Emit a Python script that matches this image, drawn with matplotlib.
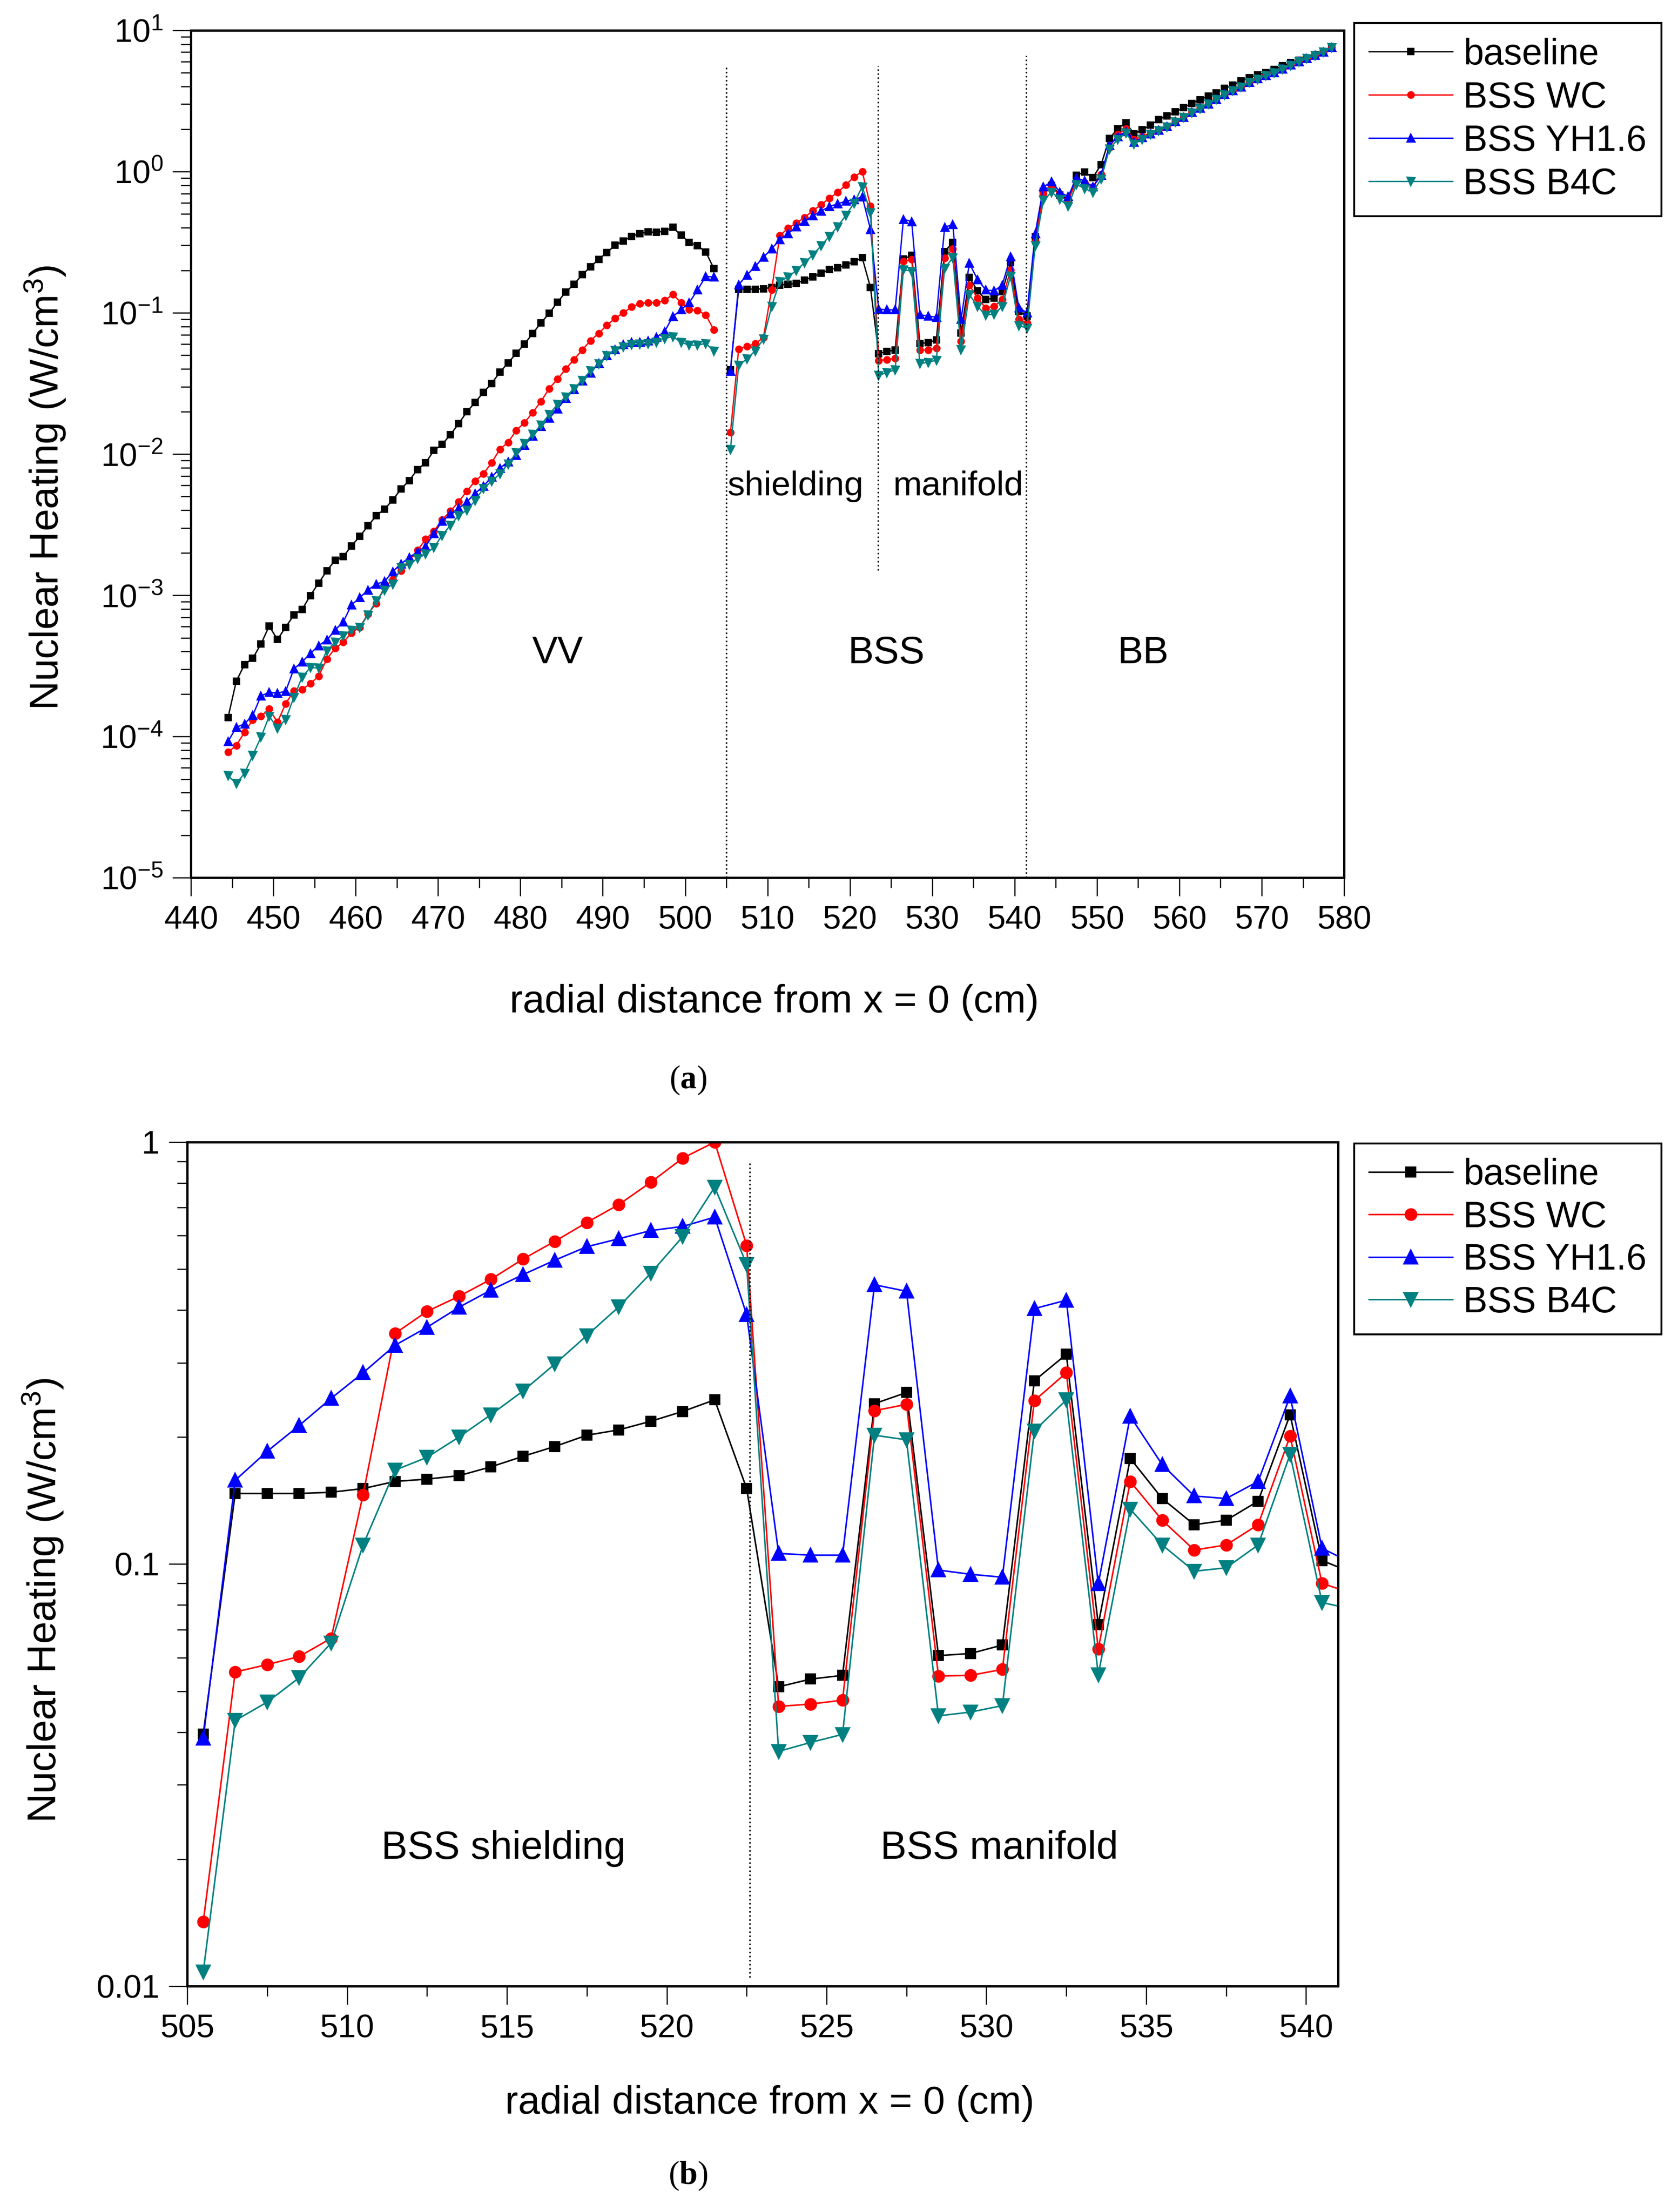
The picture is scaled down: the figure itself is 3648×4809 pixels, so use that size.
import numpy as np
import matplotlib.pyplot as plt
from matplotlib.ticker import LogLocator, MultipleLocator, NullFormatter, FixedLocator, FixedFormatter

plt.rcParams['font.family'] = ['Liberation Sans', 'DejaVu Sans']
plt.rcParams['mathtext.fontset'] = 'custom'
plt.rcParams['mathtext.rm'] = 'Liberation Sans'
plt.rcParams['mathtext.it'] = 'Liberation Sans:italic'
plt.rcParams['mathtext.bf'] = 'Liberation Serif:bold'

# radial positions (cm): vacuum vessel, back supporting structure, breeding blanket
vv_x = np.arange(444.5, 504.0, 1.0)
bss_x = np.arange(505.5, 542.0, 1.0)
bb_x = np.arange(542.5, 579.0, 1.0)

# nuclear heating (W/cm3) in the VV
vv_baseline = [1.36e-4, 2.46e-4, 3.23e-4, 3.57e-4, 4.52e-4, 6.05e-4, 4.86e-4, 5.94e-4, 7.25e-4, 7.94e-4,
               9.97e-4, 1.22e-3, 1.49e-3, 1.77e-3, 1.88e-3, 2.24e-3, 2.61e-3, 3.10e-3, 3.66e-3, 4.08e-3,
               4.72e-3, 5.66e-3, 6.49e-3, 7.78e-3, 8.67e-3, 1.06e-2, 1.17e-2, 1.37e-2, 1.64e-2, 1.99e-2,
               2.32e-2, 2.73e-2, 3.16e-2, 3.79e-2, 4.42e-2, 5.16e-2, 6.02e-2, 7.15e-2, 8.49e-2, 9.91e-2,
               0.119, 0.140, 0.159, 0.186, 0.211, 0.239, 0.267, 0.301, 0.323, 0.348,
               0.364, 0.374, 0.371, 0.378, 0.402, 0.354, 0.315, 0.298, 0.270, 0.205]
vv_wc = [7.74e-5, 8.64e-5, 1.07e-4, 1.31e-4, 1.39e-4, 1.57e-4, 1.26e-4, 1.71e-4, 2.11e-4, 2.15e-4,
         2.37e-4, 2.67e-4, 3.54e-4, 4.21e-4, 4.65e-4, 5.42e-4, 5.94e-4, 7.38e-4, 8.77e-4, 1.14e-3,
         1.29e-3, 1.49e-3, 1.77e-3, 2.08e-3, 2.49e-3, 2.84e-3, 3.43e-3, 3.94e-3, 4.59e-3, 5.46e-3,
         6.43e-3, 7.23e-3, 8.67e-3, 1.08e-2, 1.21e-2, 1.47e-2, 1.67e-2, 1.97e-2, 2.36e-2, 2.91e-2,
         3.39e-2, 4.00e-2, 4.67e-2, 5.45e-2, 6.35e-2, 7.15e-2, 8.18e-2, 9.14e-2, 0.100, 0.110,
         0.116, 0.118, 0.118, 0.122, 0.135, 0.118, 0.105, 0.104, 0.0965, 0.0755]
vv_yh = [9.2e-5, 1.16e-4, 1.23e-4, 1.41e-4, 1.94e-4, 2.05e-4, 2.03e-4, 2.09e-4, 3.01e-4, 3.38e-4,
         3.87e-4, 4.40e-4, 4.82e-4, 5.67e-4, 6.50e-4, 8.55e-4, 9.62e-4, 1.09e-3, 1.20e-3, 1.25e-3,
         1.47e-3, 1.67e-3, 1.85e-3, 2.03e-3, 2.22e-3, 2.74e-3, 3.34e-3, 3.76e-3, 4.12e-3, 4.59e-3,
         5.26e-3, 5.92e-3, 6.85e-3, 7.92e-3, 8.83e-3, 9.77e-3, 1.15e-2, 1.34e-2, 1.57e-2, 1.79e-2,
         2.09e-2, 2.47e-2, 2.85e-2, 3.30e-2, 3.75e-2, 4.38e-2, 4.97e-2, 5.49e-2, 5.96e-2, 6.18e-2,
         6.18e-2, 6.35e-2, 6.71e-2, 7.35e-2, 9.40e-2, 0.105, 0.118, 0.145, 0.181, 0.179]
vv_b4c = [5.28e-5, 4.65e-5, 5.48e-5, 7.34e-5, 9.9e-5, 1.39e-4, 1.15e-4, 1.32e-4, 1.90e-4, 2.64e-4,
          3.08e-4, 3.05e-4, 4.05e-4, 4.65e-4, 5.18e-4, 5.67e-4, 5.94e-4, 7.25e-4, 9.18e-4, 1.09e-3,
          1.20e-3, 1.57e-3, 1.66e-3, 1.82e-3, 1.97e-3, 2.18e-3, 2.66e-3, 3.13e-3, 3.66e-3, 4.01e-3,
          4.68e-3, 5.71e-3, 6.43e-3, 7.23e-3, 8.51e-3, 1.02e-2, 1.19e-2, 1.38e-2, 1.61e-2, 1.91e-2,
          2.25e-2, 2.54e-2, 2.91e-2, 3.33e-2, 3.89e-2, 4.34e-2, 4.97e-2, 5.39e-2, 5.74e-2, 5.96e-2,
          6.02e-2, 6.07e-2, 6.18e-2, 6.59e-2, 6.78e-2, 6.18e-2, 5.90e-2, 5.90e-2, 6.07e-2, 5.35e-2]

# BSS (shielding + manifold)
bss_baseline = [0.0396, 0.147, 0.147, 0.147, 0.148, 0.151, 0.157, 0.159, 0.162, 0.170,
                0.180, 0.190, 0.202, 0.208, 0.218, 0.230, 0.245, 0.151, 0.0512,
                0.0534, 0.0545, 0.240, 0.255, 0.0607, 0.0614, 0.0643, 0.272, 0.314, 0.0719,
                0.178, 0.143, 0.124, 0.127, 0.141, 0.226, 0.102, 0.095]
bss_wc = [0.0142, 0.0555, 0.0578, 0.0604, 0.0667, 0.146, 0.352, 0.397, 0.431, 0.473,
          0.528, 0.582, 0.645, 0.711, 0.803, 0.916, 1.0, 0.569, 0.0460,
          0.0466, 0.0476, 0.231, 0.239, 0.0543, 0.0545, 0.0563, 0.244, 0.284, 0.0629,
          0.157, 0.127, 0.108, 0.111, 0.124, 0.201, 0.0900, 0.085]
bss_yh = [0.0387, 0.158, 0.185, 0.213, 0.247, 0.284, 0.330, 0.364, 0.406, 0.446,
          0.485, 0.525, 0.565, 0.590, 0.617, 0.631, 0.664, 0.390, 0.106,
          0.105, 0.105, 0.459, 0.443, 0.0968, 0.0946, 0.0931, 0.403, 0.422, 0.0898,
          0.224, 0.172, 0.145, 0.143, 0.157, 0.250, 0.109, 0.100]
bss_b4c = [0.0108, 0.0426, 0.0471, 0.0538, 0.0650, 0.111, 0.167, 0.179, 0.200, 0.226,
           0.257, 0.298, 0.348, 0.407, 0.489, 0.597, 0.782, 0.513, 0.0360,
           0.0378, 0.0395, 0.202, 0.197, 0.0437, 0.0446, 0.0462, 0.207, 0.245, 0.0547,
           0.135, 0.111, 0.0962, 0.0980, 0.111, 0.182, 0.0811, 0.078]

# breeding blanket
bb_baseline = [0.344, 0.725, 0.801, 0.684, 0.63, 0.944, 0.989, 0.906, 1.12, 1.71,
               2.01, 2.22, 1.85, 1.98, 2.13, 2.34, 2.48, 2.64, 2.83, 3.04,
               3.22, 3.43, 3.61, 3.88, 4.08, 4.38, 4.62, 4.82, 5.03, 5.28,
               5.60, 5.89, 6.15, 6.38, 6.70, 7.10, 7.58]
bb_wc = [0.320, 0.695, 0.778, 0.675, 0.619, 0.861, 0.837, 0.78, 0.952, 1.48,
         1.83, 2.01, 1.69, 1.77, 1.87, 1.98, 2.10, 2.28, 2.45, 2.64,
         2.83, 3.04, 3.27, 3.53, 3.77, 4.00, 4.30, 4.55, 4.82, 5.03,
         5.33, 5.69, 6.03, 6.33, 6.64, 7.03, 7.58]
bb_yh = [0.364, 0.778, 0.849, 0.714, 0.665, 0.899, 0.86, 0.778, 0.938, 1.53,
         1.77, 1.92, 1.62, 1.74, 1.85, 1.96, 2.08, 2.26, 2.43, 2.62,
         2.81, 3.02, 3.25, 3.51, 3.75, 3.98, 4.28, 4.53, 4.80, 5.02,
         5.32, 5.68, 6.02, 6.33, 6.64, 7.03, 7.58]
bb_b4c = [0.298, 0.628, 0.714, 0.637, 0.568, 0.813, 0.757, 0.714, 0.886, 1.44,
          1.69, 1.87, 1.57, 1.69, 1.84, 1.95, 2.07, 2.25, 2.42, 2.61,
          2.80, 3.01, 3.24, 3.50, 3.74, 3.97, 4.27, 4.52, 4.79, 5.01,
          5.31, 5.67, 6.01, 6.32, 6.63, 7.02, 7.56]

labels = ["baseline", "BSS WC", "BSS YH1.6", "BSS B4C"]
colors = ["#000000", "#ff0000", "#0000ff", "#008080"]
markers = ["s", "o", "^", "v"]
msize_a = [2.8, 3.0, 3.6, 3.6]
msize_b = [5.0, 5.6, 6.8, 6.8]

vv_data = [vv_baseline, vv_wc, vv_yh, vv_b4c]
bss_data = [bss_baseline, bss_wc, bss_yh, bss_b4c]
bb_data = [bb_baseline, bb_wc, bb_yh, bb_b4c]

fig = plt.figure(figsize=(12.16, 16.03), dpi=300)
ax1 = fig.add_axes([0.1138, 0.6032, 0.6872, 0.3831])
ax2 = fig.add_axes([0.1116, 0.1021, 0.6858, 0.3816])


def style_axes(ax):
    for s in ax.spines.values():
        s.set_linewidth(1.2)
    ax.tick_params(which='both', direction='out', top=False, right=False, width=0.6, labelsize=17)
    ax.tick_params(which='major', length=9.5, pad=5)
    ax.tick_params(which='minor', length=5.3)


# ---- panel (a)
for i in range(4):
    ax1.plot(vv_x, vv_data[i], color=colors[i], marker=markers[i], ms=msize_a[i], lw=0.7,
             mec=colors[i], label=labels[i])
    ax1.plot(np.concatenate([bss_x, bb_x]), bss_data[i] + bb_data[i], color=colors[i],
             marker=markers[i], ms=msize_a[i], lw=0.7, mec=colors[i])

ax1.set_yscale('log')
ax1.set_xlim(440, 580)
ax1.set_ylim(1e-5, 10)
ax1.xaxis.set_major_locator(MultipleLocator(10))
ax1.xaxis.set_minor_locator(MultipleLocator(5))
ax1.yaxis.set_major_locator(LogLocator(base=10, numticks=20))
ax1.yaxis.set_minor_locator(LogLocator(base=10, subs=np.arange(2, 10), numticks=20))
ax1.yaxis.set_minor_formatter(NullFormatter())
style_axes(ax1)

ax1.plot([505, 505], [1e-5, 5.6], color='k', ls=':', lw=0.8)
ax1.plot([523.4, 523.4], [1.5e-3, 5.6], color='k', ls=':', lw=0.8)
ax1.plot([541.4, 541.4], [1e-5, 6.6], color='k', ls=':', lw=0.8)

ax1.text(484.5, 3.9e-4, "VV", fontsize=20, ha='center', va='center')
ax1.text(524.4, 3.9e-4, "BSS", fontsize=20, ha='center', va='center')
ax1.text(555.6, 3.9e-4, "BB", fontsize=20, ha='center', va='center')
ax1.text(513.4, 5.9e-3, "shielding", fontsize=18, ha='center', va='center')
ax1.text(533.2, 5.9e-3, "manifold", fontsize=18, ha='center', va='center')

ax1.set_xlabel("radial distance from x = 0 (cm)", fontsize=20.5)
ax1.set_ylabel("Nuclear Heating (W/cm$^3$)", fontsize=21)
ax1.xaxis.set_label_coords(0.506, -0.125)
ax1.yaxis.set_label_coords(-0.107, 0.46)

leg1 = ax1.legend(loc='upper left', bbox_to_anchor=(0.807, 0.9896), bbox_transform=fig.transFigure,
                  fontsize=19, frameon=True, fancybox=False, framealpha=1, edgecolor='k',
                  handlelength=2.3, handletextpad=0.3, labelspacing=0.24, borderpad=0.4,
                  borderaxespad=0)
leg1.get_frame().set_linewidth(1.0)

# ---- panel (b)
for i in range(4):
    ax2.plot(bss_x, bss_data[i], color=colors[i], marker=markers[i], ms=msize_b[i], lw=0.8,
             mec=colors[i], label=labels[i])

ax2.set_yscale('log')
ax2.set_xlim(505, 541)
ax2.set_ylim(0.01, 1)
ax2.xaxis.set_major_locator(MultipleLocator(5))
ax2.xaxis.set_minor_locator(MultipleLocator(2.5))
ax2.yaxis.set_major_locator(FixedLocator([0.01, 0.1, 1]))
ax2.yaxis.set_major_formatter(FixedFormatter(["0.01", "0.1", "1"]))
ax2.yaxis.set_minor_locator(LogLocator(base=10, subs=np.arange(2, 10), numticks=20))
ax2.yaxis.set_minor_formatter(NullFormatter())
style_axes(ax2)

ax2.plot([522.6, 522.6], [0.0105, 0.9], color='k', ls=':', lw=0.8)
ax2.text(514.9, 0.0212, "BSS shielding", fontsize=20.5, ha='center', va='center')
ax2.text(530.4, 0.0212, "BSS manifold", fontsize=20.5, ha='center', va='center')

ax2.set_xlabel("radial distance from x = 0 (cm)", fontsize=20.5)
ax2.set_ylabel("Nuclear Heating (W/cm$^3$)", fontsize=21)
ax2.xaxis.set_label_coords(0.506, -0.117)
ax2.yaxis.set_label_coords(-0.106, 0.457)

leg2 = ax2.legend(loc='upper left', bbox_to_anchor=(0.807, 0.4831), bbox_transform=fig.transFigure,
                  fontsize=19, frameon=True, fancybox=False, framealpha=1, edgecolor='k',
                  handlelength=2.3, handletextpad=0.3, labelspacing=0.22, borderpad=0.4,
                  borderaxespad=0)
leg2.get_frame().set_linewidth(1.0)

fig.text(0.410, 0.5117, r"($\mathbf{a}$)", fontsize=17, family='Liberation Serif', ha='center', va='center')
fig.text(0.410, 0.0164, r"($\mathbf{b}$)", fontsize=17, family='Liberation Serif', ha='center', va='center')

fig.savefig("out.png", dpi=300)
